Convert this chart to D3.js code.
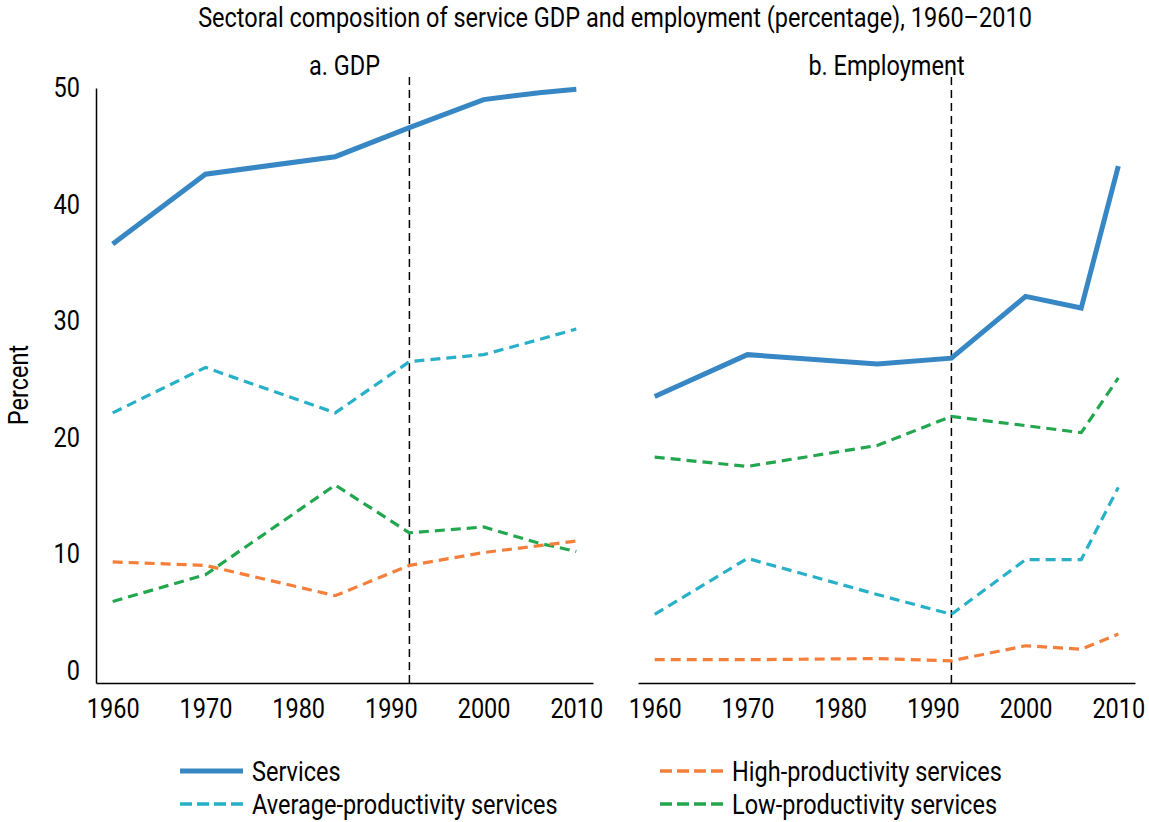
<!DOCTYPE html>
<html>
<head>
<meta charset="utf-8">
<script src="https://cdn.jsdelivr.net/npm/d3@7"></script>
<style>
  body { margin: 0; background: #fff; }
  svg { display: block; font-family: "Roboto", "Liberation Sans", sans-serif; }
  text { font-size: 28px; fill: #000; }
</style>
</head>
<body>
<svg id="chart"></svg>
<script>
// Survey years and series (percent)
const years = [1960, 1970, 1984, 1992, 2000, 2006, 2010];
const tickYears = [1960, 1970, 1980, 1990, 2000, 2010];
const yTicks = [0, 10, 20, 30, 40, 50];
const reformYear = 1992;

const gdpServices = [36.6, 42.6, 44.1, 46.6, 49.0, 49.6, 49.9];
const gdpHigh     = [9.3, 9.0, 6.4, 9.0, 10.1, 10.7, 11.1];
const gdpAverage  = [22.1, 26.0, 22.1, 26.5, 27.1, 28.4, 29.3];
const gdpLow      = [5.9, 8.2, 15.9, 11.8, 12.3, 10.9, 10.2];

const empServices = [23.5, 27.1, 26.3, 26.8, 32.1, 31.1, 43.3];
const empHigh     = [0.9, 0.9, 1.0, 0.8, 2.1, 1.8, 3.1];
const empAverage  = [4.8, 9.6, 6.5, 4.8, 9.5, 9.5, 15.7];
const empLow      = [18.3, 17.5, 19.3, 21.8, 21.0, 20.4, 25.1];

const seriesNames = ['Services', 'High-productivity services', 'Average-productivity services', 'Low-productivity services'];

const W = 1149, H = 822;
const SX = 0.84; // condensed look: squeeze text horizontally
const styles = {
  'Services': { color: '#3787c5', width: 5, dash: null },
  'High-productivity services': { color: '#f47f3b', width: 3.2, dash: '10,6' },
  'Average-productivity services': { color: '#27b0c8', width: 3.2, dash: '10,6' },
  'Low-productivity services': { color: '#22a74f', width: 3.2, dash: '10,6' }
};

const svg = d3.select('#chart').attr('width', W).attr('height', H);

function label(x, y, str, anchor) {
  return svg.append('text')
    .attr('transform', `translate(${x}, ${y}) scale(${SX}, 1)`)
    .attr('text-anchor', anchor || 'start')
    .text(str);
}

function condense(sel) {
  sel.each(function() {
    const t = d3.select(this);
    const x = +t.attr('x') || 0;
    t.attr('x', x / SX).attr('transform', `scale(${SX}, 1)`);
  });
}

// Title
label(615, 27, 'Sectoral composition of service GDP and employment (percentage), 1960–2010', 'middle');

const y = d3.scaleLinear().domain([-1.1, 50]).range([683, 88]);

const panels = [
  { title: 'a. GDP', left: 96, right: 593, showY: true,
    data: [gdpServices, gdpHigh, gdpAverage, gdpLow] },
  { title: 'b. Employment', left: 638, right: 1135, showY: false,
    data: [empServices, empHigh, empAverage, empLow] }
];

panels.forEach(p => {
  const x = d3.scaleLinear().domain([1958.2, 2011.8]).range([p.left, p.right]);
  const g = svg.append('g');

  label((p.left + p.right) / 2, 75, p.title, 'middle');

  // x axis
  const xAxis = g.append('g')
    .attr('transform', `translate(0, ${y.range()[0]})`)
    .call(d3.axisBottom(x).tickValues(tickYears).tickFormat(d3.format('d'))
      .tickSize(0).tickSizeOuter(0).tickPadding(15));
  xAxis.select('.domain').attr('stroke', '#000').attr('stroke-width', 1.5);
  xAxis.selectAll('text').attr('font-size', null).attr('font-family', null).attr('fill', '#000').call(condense);
  xAxis.attr('font-size', null).attr('font-family', null);

  if (p.showY) {
    const yAxis = g.append('g')
      .attr('transform', `translate(${p.left}, 0)`)
      .call(d3.axisLeft(y).tickValues(yTicks).tickSize(0).tickSizeOuter(0).tickPadding(16));
    yAxis.select('.domain').attr('stroke', '#000').attr('stroke-width', 1.5);
    yAxis.selectAll('text').attr('fill', '#000').call(condense);
    yAxis.attr('font-size', null).attr('font-family', null);
  }

  // reform year marker
  g.append('line')
    .attr('x1', x(reformYear)).attr('x2', x(reformYear))
    .attr('y1', 77).attr('y2', y.range()[0])
    .attr('stroke', '#000').attr('stroke-width', 1.5)
    .attr('stroke-dasharray', '8,5');

  const line = d3.line().x((d, i) => x(years[i])).y(d => y(d));

  // back-to-front so Services sits on top
  [3, 2, 1, 0].forEach(k => {
    const st = styles[seriesNames[k]];
    g.append('path')
      .datum(p.data[k])
      .attr('d', line)
      .attr('fill', 'none')
      .attr('stroke', st.color)
      .attr('stroke-width', st.width)
      .attr('stroke-dasharray', st.dash);
  });
});

// y label
svg.append('text')
  .attr('transform', `translate(28, 385) rotate(-90) scale(${SX}, 1)`)
  .attr('text-anchor', 'middle')
  .text('Percent');

// legend
const legendPos = [
  { x: 180, y: 771 }, { x: 660, y: 771 },
  { x: 180, y: 804 }, { x: 660, y: 804 }
];
seriesNames.forEach((name, i) => {
  const st = styles[name];
  const pos = legendPos[i];
  svg.append('line')
    .attr('x1', pos.x).attr('x2', pos.x + 63)
    .attr('y1', pos.y).attr('y2', pos.y)
    .attr('stroke', st.color)
    .attr('stroke-width', st.width + (st.dash ? 0.3 : 0))
    .attr('stroke-dasharray', st.dash ? '12,5' : null);
  label(pos.x + 72, pos.y + 10, name);
});
</script>
</body>
</html>
